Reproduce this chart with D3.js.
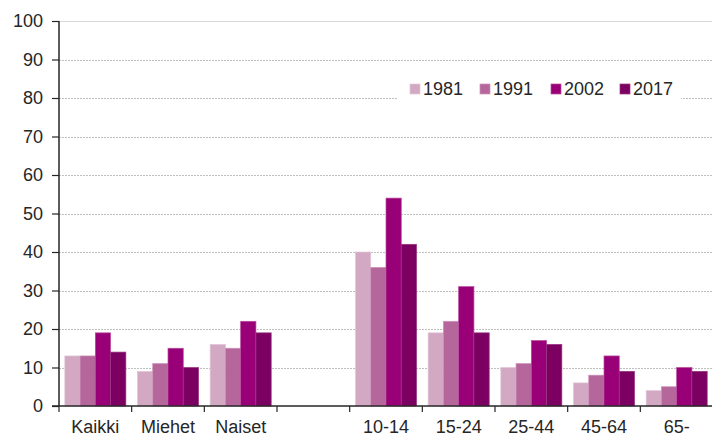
<!DOCTYPE html>
<html>
<head>
<meta charset="utf-8">
<script src="https://cdn.jsdelivr.net/npm/d3@7"></script>
<style>
  html, body { margin: 0; padding: 0; background: #fff; }
  svg { display: block; }
  text { font-family: "Liberation Sans", Arial, sans-serif; fill: #262626; }
</style>
</head>
<body>
<svg id="chart" width="712" height="436"></svg>
<script>
const categories = ["Kaikki", "Miehet", "Naiset", " ", "10-14", "15-24", "25-44", "45-64", "65-"];
const seriesNames = ["1981", "1991", "2002", "2017"];
const values1981 = [13, 9, 16, null, 40, 19, 10, 6, 4];
const values1991 = [13, 11, 15, null, 36, 22, 11, 8, 5];
const values2002 = [19, 15, 22, null, 54, 31, 17, 13, 10];
const values2017 = [14, 10, 19, null, 42, 19, 16, 9, 9];
const yTicks = [0, 10, 20, 30, 40, 50, 60, 70, 80, 90, 100];
const colors = ["#d2a8c3", "#b5679c", "#990078", "#7b0062"];
const strokes = ["#e2c6d7", "#cb8fb8", "#b94a9c", "#98337f"];

const seriesValues = [values1981, values1991, values2002, values2017];

const svg = d3.select("#chart");
const mLeft = 59, mRight = 713, mTop = 21, mBottom = 406;

const x = d3.scaleBand().domain(categories).range([mLeft, mRight]).paddingInner(0).paddingOuter(0);
const y = d3.scaleLinear().domain([0, 100]).range([mBottom, mTop]);
const groupPad = 0.08;
const xs = d3.scaleBand().domain(seriesNames).range([x.bandwidth() * groupPad, x.bandwidth() * (1 - groupPad)]);

// gridlines
const grid = svg.append("g");
yTicks.filter(t => t > 0).forEach(t => {
  grid.append("line")
    .attr("x1", mLeft).attr("x2", 712)
    .attr("y1", Math.round(y(t)) + 0.5).attr("y2", Math.round(y(t)) + 0.5)
    .attr("stroke", t === 100 ? "#d9d9d9" : "#bfbfbf")
    .attr("stroke-width", 1)
    .attr("stroke-dasharray", t === 100 ? null : "2,1");
});

// bars
const barsG = svg.append("g");
seriesNames.forEach((s, si) => {
  barsG.selectAll(null)
    .data(categories.map((c, i) => ({ c, v: seriesValues[si][i] })).filter(d => d.v != null))
    .enter().append("rect")
    .attr("x", d => x(d.c) + xs(s))
    .attr("width", xs.bandwidth())
    .attr("y", d => y(d.v))
    .attr("height", d => mBottom - y(d.v))
    .attr("fill", colors[si])
    .attr("stroke", strokes[si])
    .attr("stroke-width", 0.7);
});

// y axis
const yAxis = d3.axisLeft(y).tickValues(yTicks).tickSize(7).tickPadding(9);
const yg = svg.append("g").attr("transform", `translate(${mLeft},0)`).call(yAxis);
yg.select(".domain").attr("stroke", "#262626").attr("stroke-width", 1.5).attr("d", `M0,${mTop}V${mBottom}`);
yg.selectAll(".tick line").attr("stroke", "#262626").attr("stroke-width", 1.2);
yg.selectAll(".tick text").attr("font-size", "18px").attr("font-family", "Liberation Sans, Arial, sans-serif").attr("fill", "#262626");

// x axis
const xAxis = d3.axisBottom(x).tickSize(0).tickPadding(16);
const xg = svg.append("g").attr("transform", `translate(0,${mBottom})`).call(xAxis);
xg.select(".domain").attr("stroke", "#262626").attr("stroke-width", 1.5).attr("d", `M${mLeft - 7},0H712`);
xg.selectAll(".tick text").attr("font-size", "18px").attr("font-family", "Liberation Sans, Arial, sans-serif").attr("fill", "#262626").attr("dy", "0.71em").attr("y", 14);
// boundary ticks
categories.forEach((c) => {
  xg.append("line")
    .attr("x1", x(c)).attr("x2", x(c))
    .attr("y1", 0).attr("y2", 6)
    .attr("stroke", "#262626").attr("stroke-width", 1.2);
});

// legend
const lg = svg.append("g");
lg.append("rect").attr("x", 397).attr("y", 72).attr("width", 284).attr("height", 32).attr("fill", "#fff");
const legendX = [410, 480, 551, 620];
seriesNames.forEach((s, i) => {
  lg.append("rect").attr("x", legendX[i]).attr("y", 84).attr("width", 10).attr("height", 10)
    .attr("fill", colors[i]).attr("stroke", strokes[i]).attr("stroke-width", 0.7);
  lg.append("text").attr("x", legendX[i] + 13).attr("y", 95)
    .attr("font-size", "18px").text(s);
});
</script>
</body>
</html>
